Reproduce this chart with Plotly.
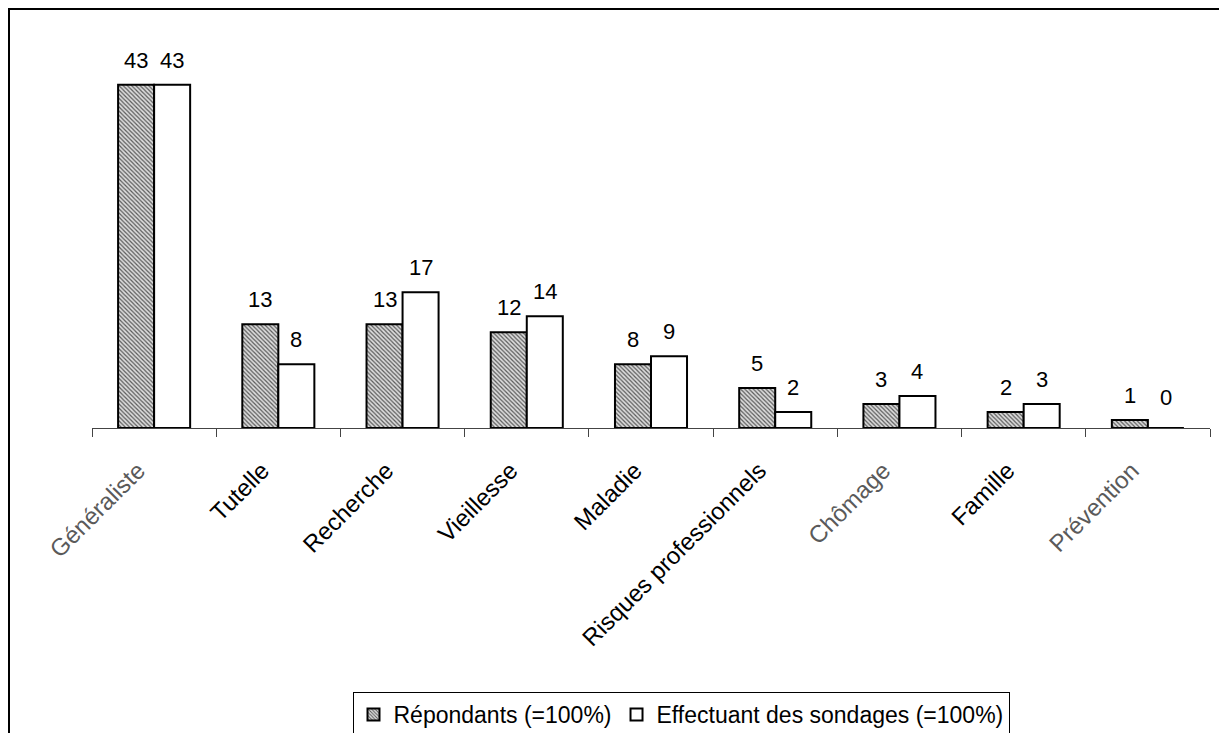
import plotly.graph_objects as go

categories = [
    "Généraliste",
    "Tutelle",
    "Recherche",
    "Vieillesse",
    "Maladie",
    "Risques professionnels",
    "Chômage",
    "Famille",
    "Prévention",
]

repondants = [43, 13, 13, 12, 8, 5, 3, 2, 1]
sondages = [43, 8, 17, 14, 9, 2, 4, 3, 0]

# labels that look greyed out in the source
grey_labels = ["Généraliste", "Chômage", "Prévention"]

tick_text = [
    f'<span style="color:#5a5a5a">{c}</span>' if c in grey_labels else c
    for c in categories
]

# the page body has an 8px margin, so the figure starts at (8, 8)
OFF = 8
W, H = 1227 - OFF, 733 - OFF
ml = 92 - OFF
mt = 29 - OFF
pw = 1210 - 92
ph = 428 - 29
mr = W - ml - pw
mb = H - mt - ph
bargap = 0.42


def px_x(p):
    return (p - OFF - ml) / pw


def px_y(p):
    return (ph - (p - OFF - mt)) / ph


fig = go.Figure()

fig.add_trace(
    go.Bar(
        x=categories,
        y=repondants,
        name="Répondants (=100%)",
        marker=dict(
            color="#bdbdbd",
            line=dict(color="black", width=2),
            pattern=dict(
                shape="\\",
                size=3,
                solidity=0.4,
                fgcolor="#5a5a5a",
                bgcolor="#dcdcdc",
                fillmode="replace",
            ),
        ),
    )
)

fig.add_trace(
    go.Bar(
        x=categories,
        y=sondages,
        name="Effectuant des sondages (=100%)",
        marker=dict(
            color="white",
            line=dict(color="black", width=2),
        ),
    )
)

# value labels sit a bit higher above the bars than plotly's own text
half_bar = pw / len(categories) * (1 - bargap) / 4
for series, shift in [(repondants, -half_bar), (sondages, half_bar)]:
    for cat, val in zip(categories, series):
        fig.add_annotation(
            x=cat,
            y=val,
            text=str(val),
            showarrow=False,
            yanchor="bottom",
            xshift=shift,
            yshift=10 if val else 16,
            font=dict(size=22, color="black"),
        )

fig.update_layout(
    width=W,
    height=H,
    margin=dict(l=ml, r=mr, t=mt, b=mb, autoexpand=False),
    paper_bgcolor="white",
    plot_bgcolor="white",
    barmode="group",
    bargap=bargap,
    bargroupgap=0,
    font=dict(family="Liberation Sans, Arial", size=22, color="black"),
    showlegend=True,
    legend=dict(
        orientation="h",
        x=px_x(681),
        xanchor="center",
        y=px_y(692),
        yanchor="top",
        bordercolor="black",
        borderwidth=1,
        bgcolor="white",
        font=dict(size=23),
        itemwidth=30,
        tracegroupgap=0,
    ),
    xaxis=dict(
        tickmode="array",
        tickvals=categories,
        ticktext=tick_text,
        tickangle=-45,
        ticks="outside",
        tickson="boundaries",
        ticklen=8,
        tickcolor="#444444",
        showline=True,
        linecolor="#444444",
        linewidth=1,
        tickfont=dict(size=24),
        ticklabelstandoff=18,
        ticklabelshift=-16,
        automargin=False,
    ),
    yaxis=dict(
        range=[0, 50],
        visible=False,
        showgrid=False,
        zeroline=False,
    ),
    shapes=[
        dict(
            type="rect",
            xref="paper",
            yref="paper",
            x0=px_x(9),
            x1=px_x(1260),
            y0=px_y(780),
            y1=px_y(9),
            line=dict(color="black", width=2),
            layer="below",
        )
    ],
)

fig.write_html("out.html")
